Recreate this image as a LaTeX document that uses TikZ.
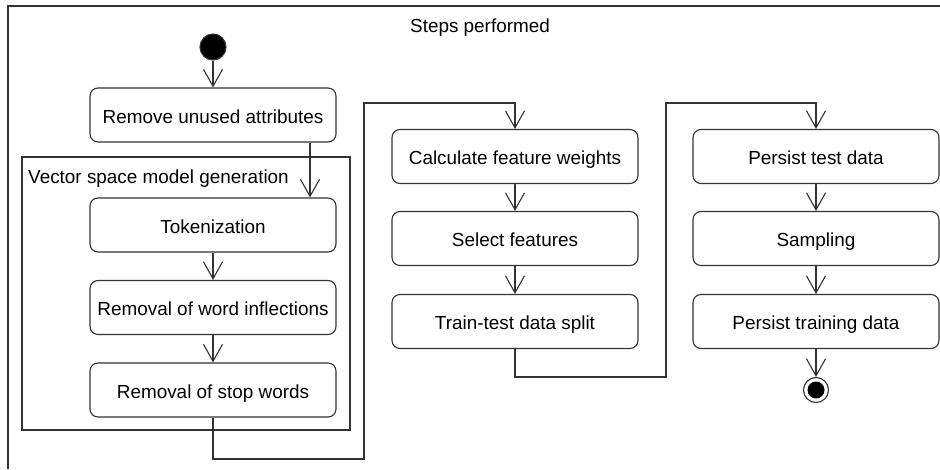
\documentclass[tikz,border=0pt]{standalone}
\usepackage{fontspec}
\setmainfont{Liberation Sans}
\usetikzlibrary{arrows.meta}
\begin{document}
\begin{tikzpicture}[x=1pt,y=-1pt,
  lc/.style={draw=black!80, line width=1.1pt},
  lbl/.style={font=\fontsize{18.9}{22}\selectfont, text=black, inner sep=0pt, text height=18pt, text depth=2pt},
  act/.style={lc, lbl, rounded corners=8pt, minimum width=246pt, minimum height=54pt},
  arr/.style={lc, -{Straight Barb[length=17pt,width=19pt]}},
  initial/.style={circle, fill=black, draw=black!80, line width=1.1pt, minimum size=26pt, inner sep=0pt},
  final/.style={circle, draw=black!80, fill=white, line width=1.1pt, minimum size=25pt, inner sep=0pt}
]
\useasboundingbox (0,0) rectangle (940,469);
% outer frame (cropped at right and bottom)
\draw[lc] (940,6) -| (8,469);
\node[lbl] (title) at (480,24) {Steps performed};
% vector space model frame
\node[lc, minimum width=328pt, minimum height=273pt, inner sep=0pt] (vsm) at (186,293.5) {};
\node[lbl, anchor=west] (vsmlbl) at (28,175) {Vector space model generation};
% column 1
\node[initial] (start) at (213,47) {};
\node[act] (rua) at (213,115) {Remove unused attributes};
\node[act] (tok) at (213,225) {Tokenization};
\node[act] (inf) at (213,307.5) {Removal of word inflections};
\node[act] (stop) at (213,390) {Removal of stop words};
% column 2
\node[act] (cfw) at (515,156.5) {Calculate feature weights};
\node[act] (sel) at (515,238.5) {Select features};
\node[act] (tts) at (515,321.5) {Train-test data split};
% column 3
\node[act] (ptd) at (816,156.5) {Persist test data};
\node[act] (samp) at (816,238.5) {Sampling};
\node[act] (ptr) at (816,321.5) {Persist training data};
\node[final] (end) at (816,390) {};
\fill[black] (end.center) circle (8.5pt);
% connectors
\draw[arr] (start) -- (rua);
\draw[arr] ([xshift=97pt]rua.south) -- ([xshift=97pt]tok.north);
\draw[arr] (tok) -- (inf);
\draw[arr] (inf) -- (stop);
\draw[arr] (stop.south) |- (364,459) |- (cfw.north |- 0,103) -- (cfw.north);
\draw[arr] (cfw) -- (sel);
\draw[arr] (sel) -- (tts);
\draw[arr] (tts.south) |- (666,377) |- (ptd.north |- 0,103) -- (ptd.north);
\draw[arr] (ptd) -- (samp);
\draw[arr] (samp) -- (ptr);
\draw[arr] (ptr) -- (end);
\end{tikzpicture}
\end{document}
